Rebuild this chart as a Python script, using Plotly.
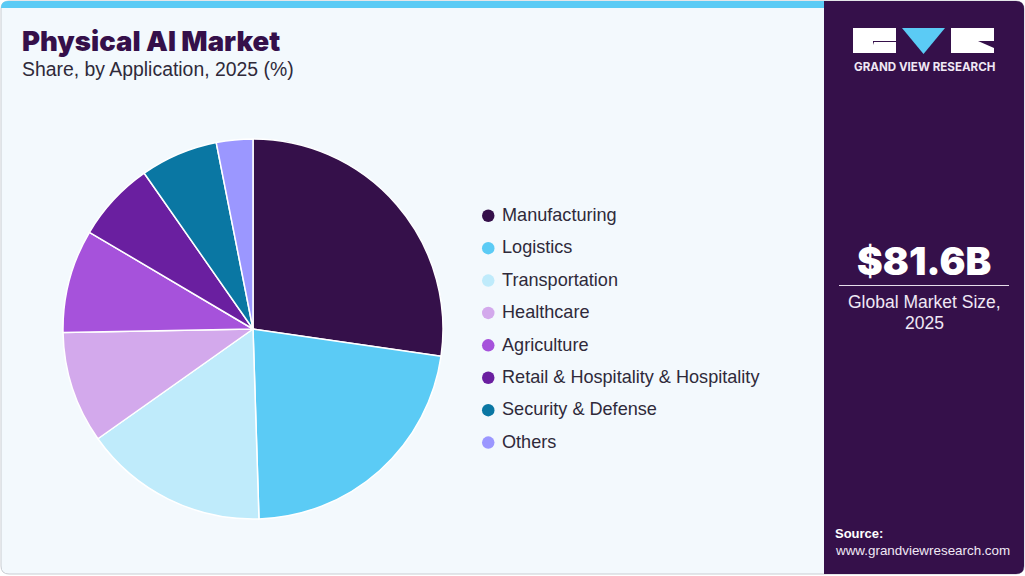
import plotly.graph_objects as go

categories = ['Manufacturing', 'Logistics', 'Transportation', 'Healthcare', 'Agriculture',
              'Retail & Hospitality & Hospitality', 'Security & Defense', 'Others']
shares = [27.3, 22.2, 15.7, 9.5, 8.8, 6.8, 6.6, 3.1]
colors = ['#35104A', '#5BCBF5', '#BFEBFB', '#D3A9EC', '#A652DB', '#6A1FA0', '#0A77A3', '#9B97FF']

W = 1025
H = 576
PANEL = '#35104A'
TEXT = '#2F2A3A'
TITLE_FONT = 'Inter'
BODY_FONT = 'Liberation Sans'


def rounded(x0, y0, x1, y1, r):
    return (f'M{x0+r},{y0} L{x1-r},{y0} Q{x1},{y0} {x1},{y0+r} L{x1},{y1-r} Q{x1},{y1} {x1-r},{y1} '
            f'L{x0+r},{y1} Q{x0},{y1} {x0},{y1-r} L{x0},{y0+r} Q{x0},{y0} {x0+r},{y0} Z')


fig = go.Figure()

# pie centre 253,329 radius 190 in pixels
fig.add_trace(go.Pie(
    labels=categories,
    values=shares,
    sort=False,
    direction='clockwise',
    rotation=0,
    textinfo='none',
    hoverinfo='label+percent',
    showlegend=False,
    marker=dict(colors=colors, line=dict(color='white', width=1.5)),
    domain=dict(x=[(253 - 190) / W, (253 + 190) / W], y=[1 - (329 + 190) / H, 1 - (329 - 190) / H]),
))

shapes = []
# card background, top bar and right panel
shapes.append(dict(type='path', path=rounded(1, 1, 1024, 574, 8), fillcolor='#F3F9FD',
                   line=dict(color='#C9CDD2', width=1), layer='below'))
shapes.append(dict(type='path', path='M1,8 Q1,1 8,1 L824,1 L824,8 Z', fillcolor='#5BCBF5',
                   line=dict(width=0), layer='below'))
shapes.append(dict(type='path', path='M824,1 L1016,1 Q1024,1 1024,9 L1024,566 Q1024,574 1016,574 L824,574 Z',
                   fillcolor=PANEL, line=dict(width=0), layer='below'))

# logo
shapes.append(dict(type='path', path='M853,28 L896,28 L896,53 L853,53 Z M873,41 L873,45 L874,42 L896,42 L896,41 Z',
                   fillcolor='white', line=dict(width=0)))
shapes.append(dict(type='path', path='M902,28 L945,28 L923.5,54 Z', fillcolor='#5BCBF5', line=dict(width=0)))
shapes.append(dict(type='path', path='M951,28 L994,28 L994,41 L978,41 L994,48 L994,53 L951,53 Z',
                   fillcolor='white', line=dict(width=0)))

# rule under the market size
shapes.append(dict(type='line', x0=839, x1=1009, y0=285.5, y1=285.5, line=dict(color='#E6DDEB', width=1)))

annotations = []


def add_text(x, y, text, size, color, family=BODY_FONT, anchor='left', weight=None):
    annotations.append(dict(x=x, y=y, xref='x', yref='y', text=text, showarrow=False, xanchor=anchor,
                            yanchor='middle', align=anchor,
                            font=dict(family=family, size=size, color=color, weight=weight)))


add_text(20, 41, 'Physical AI Market', 27.5, PANEL, TITLE_FONT, weight=900)
add_text(20, 69, 'Share, by Application, 2025 (%)', 19.4, TEXT)

# legend
for i, (name, col) in enumerate(zip(categories, colors)):
    y = 215.5 + i * 32.4
    shapes.append(dict(type='circle', x0=482, x1=494.5, y0=y - 6, y1=y + 6.5, fillcolor=col, line=dict(width=0)))
    add_text(500, y - 0.5, name, 18.1, TEXT)

add_text(924, 66.5, 'GRAND VIEW RESEARCH', 11.6, '#F0E8F5', TITLE_FONT, 'center', 700)
add_text(924, 261, '$81.6B', 38.6, 'white', TITLE_FONT, 'center', 900)
add_text(924, 302, 'Global Market Size,', 17.5, '#F0E8F5', BODY_FONT, 'center')
add_text(924, 323, '2025', 17.5, '#F0E8F5', BODY_FONT, 'center')
add_text(833, 533, 'Source:', 13, 'white', BODY_FONT, 'left', 700)
add_text(833, 550, 'www.grandviewresearch.com', 13.4, '#F0E8F5')

fig.update_layout(
    width=W,
    height=H,
    margin=dict(l=0, r=0, t=0, b=0),
    paper_bgcolor='white',
    plot_bgcolor='rgba(0,0,0,0)',
    xaxis=dict(range=[0, W], visible=False, fixedrange=True),
    yaxis=dict(range=[H, 0], visible=False, fixedrange=True),
    shapes=shapes,
    annotations=annotations,
)

# browser default body margin would push the figure 8px off
fig.write_html('out.html', config=dict(displayModeBar=False),
               post_script="document.body.style.margin='0';document.body.style.overflow='hidden';")
